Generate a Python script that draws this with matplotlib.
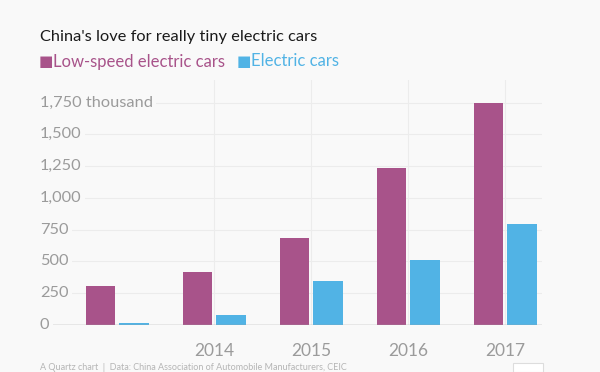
import matplotlib
matplotlib.use("Agg")
import matplotlib.pyplot as plt
import matplotlib.transforms as mtransforms
from matplotlib.patches import Rectangle
import numpy as np

plt.rcParams["font.family"] = ["Lato", "DejaVu Sans"]

# Data (thousand units)
years = [2013, 2014, 2015, 2016, 2017]
low_speed = [307, 414, 687, 1233, 1747]
electric = [16, 79, 344, 512, 792]
y_ticks = [0, 250, 500, 750, 1000, 1250, 1500, 1750]
y_labels = ["0", "250", "500", "750", "1,000", "1,250", "1,500", "1,750 thousand"]
labeled_years = [2014, 2015, 2016, 2017]

BG = "#f9f9f9"
PURPLE = "#a8538a"
BLUE = "#51b3e5"
GRAY = "#9b9b9b"
GRID = "#ececec"

W, H = 600, 372
fig = plt.figure(figsize=(W / 100, H / 100), dpi=100, facecolor=BG)

# axes placed in pixel terms
left, right, bottom, top = 40, 542, 325, 80
ax = fig.add_axes([left / W, 1 - bottom / H, (right - left) / W, (bottom - top) / H])
ax.set_facecolor(BG)

x = np.arange(len(years))
bw = 0.302
off = 0.172
ax.bar(x - off, low_speed, width=bw, color=PURPLE, zorder=3)
ax.bar(x + off, electric, width=bw, color=BLUE, zorder=3)

ax.set_xlim(-0.797, 4.378)
ymax = 1750 + (102.5 - top) * 1750 / (bottom - 102.5)
ax.set_ylim(0, ymax)

for s in ax.spines.values():
    s.set_visible(False)

# horizontal grid
for v in y_ticks[1:]:
    ax.axhline(v, color=GRID, lw=0.8, zorder=1)
ax.axhline(0, color="#a0a0a0", lw=1.0, zorder=4)

# vertical grid at labeled years
xt = [years.index(y) for y in labeled_years]
for xv in xt:
    ax.axvline(xv, color=GRID, lw=0.8, zorder=1)

ax.set_yticks([])
ax.set_xticks(xt)
ax.set_xticklabels([str(y) for y in labeled_years], color=GRAY, fontsize=12.5)
ax.tick_params(axis="x", length=0, pad=13)

# y labels sitting on gridlines, left aligned
trans = mtransforms.blended_transform_factory(ax.transAxes, ax.transData)
for v, lab in zip(y_ticks, y_labels):
    ax.text(0, v, lab, transform=trans, ha="left", va="center", color=GRAY,
            fontsize=11.8, zorder=5,
            bbox=dict(facecolor=BG, edgecolor="none", pad=2.5))

# title and legend
fig.text(40 / W, 1 - 41 / H, "China's love for really tiny electric cars",
         fontsize=11.8, color="#1a1a1a", ha="left", va="baseline")
fig.text(39 / W, 1 - 66.5 / H, "\u25a0", fontsize=11, color=PURPLE, ha="left", va="baseline")
fig.text(53 / W, 1 - 66.5 / H, "Low-speed electric cars", fontsize=12, color=PURPLE,
         ha="left", va="baseline")
fig.text(237 / W, 1 - 66.5 / H, "\u25a0", fontsize=11, color=BLUE, ha="left", va="baseline")
fig.text(251 / W, 1 - 66.5 / H, "Electric cars", fontsize=12, color=BLUE,
         ha="left", va="baseline")

# footer, small at the bottom edge
fig.text(40 / W, 1 - 370 / H,
         "A Quartz chart  |  Data: China Association of Automobile Manufacturers, CEIC",
         fontsize=6.5, color="#b5b5b5", ha="left", va="baseline")
fig.patches.append(Rectangle((513 / W, 0), 30 / W, 9 / H, transform=fig.transFigure,
                             facecolor="white", edgecolor="#dddddd", lw=0.8))

fig.savefig("out.png", dpi=100, facecolor=BG)
